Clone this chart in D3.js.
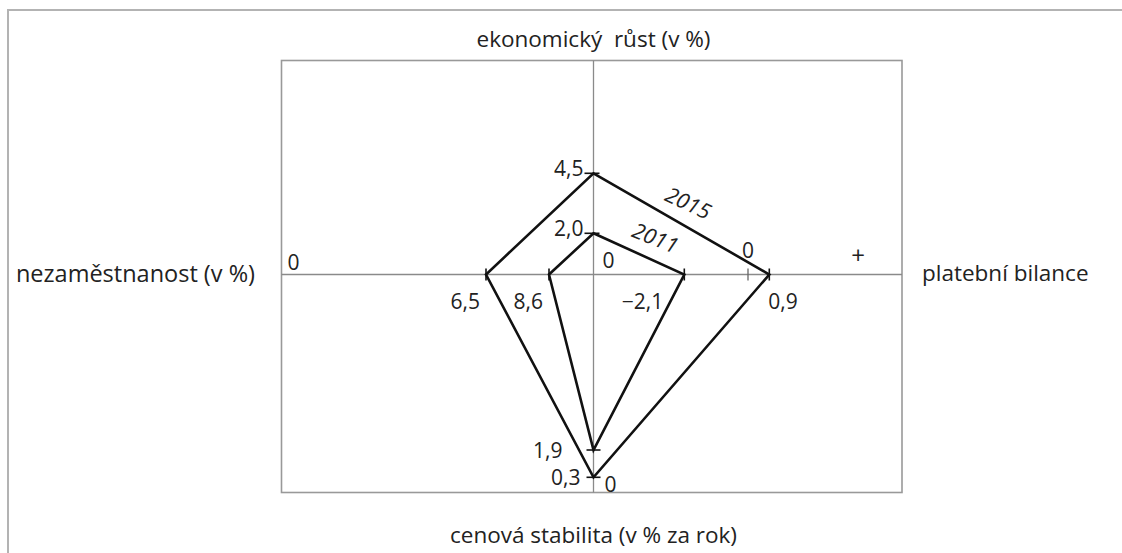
<!DOCTYPE html>
<html>
<head>
<meta charset="utf-8">
<script src="https://cdn.jsdelivr.net/npm/d3@7"></script>
<style>
  html, body { margin: 0; padding: 0; background: #fff; }
  svg text { font-family: "Open Sans", "Noto Sans", sans-serif; fill: #222; white-space: pre; }
</style>
</head>
<body>
<svg id="chart" width="1122" height="553"></svg>
<script>
// ---- data ----
const years = ["2011", "2015"];
const growth = [2.0, 4.5];          // ekonomický růst (v %)
const balance = [-2.1, 0.9];        // platební bilance
const unemployment = [8.6, 6.5];    // nezaměstnanost (v %)
const inflation = [1.9, 0.3];       // cenová stabilita (v % za rok)

const axisTitles = {
  top: "ekonomický  růst (v %)",
  left: "nezaměstnanost (v %)",
  right: "platební bilance",
  bottom: "cenová stabilita (v % za rok)"
};
const zeroLabel = "0";
const plusLabel = "+";

// ---- layout ----
const W = 1122, H = 553;
const box = { left: 281.5, right: 902, top: 60.5, bottom: 492.5 };
const cx = 593.5, cy = 274.5;

const svg = d3.select("#chart");
const fmt = d3.formatLocale({ decimal: ",", thousands: " ", grouping: [3], currency: ["", ""], minus: "\u2212" }).format(".1f");

// scales (schematic polylinear axes as in the original drawing)
const yGrowth = d3.scaleLinear().domain([0, 2, 4.5]).range([cy, 233.3, 173.3]);
const xBalance = d3.scaleLinear().domain([-2.1, 0, 0.9]).range([684.3, 748, 769.3]);
const xUnemp = d3.scaleLinear().domain([0, 6.5, 8.6]).range([box.left, 486, 549]);
const yInfl = d3.scaleLinear().domain([0, 0.3, 1.9]).range([483, 477.3, 450]);

// outer frame
svg.append("path")
  .attr("d", `M8,${H} L8,10 L${W},10`)
  .attr("fill", "none").attr("stroke", "#b3b3b3").attr("stroke-width", 2);

// inner box
svg.append("rect")
  .attr("x", box.left).attr("y", box.top)
  .attr("width", box.right - box.left).attr("height", box.bottom - box.top)
  .attr("fill", "none").attr("stroke", "#999").attr("stroke-width", 1.6);

// axes
svg.append("line").attr("x1", cx).attr("x2", cx).attr("y1", box.top).attr("y2", box.bottom)
  .attr("stroke", "#8a8a8a").attr("stroke-width", 1.3);
svg.append("line").attr("x1", box.left).attr("x2", box.right).attr("y1", cy).attr("y2", cy)
  .attr("stroke", "#8a8a8a").attr("stroke-width", 1.3);

// zero tick on balance axis
svg.append("line").attr("x1", xBalance(0)).attr("x2", xBalance(0))
  .attr("y1", cy - 6).attr("y2", cy + 6)
  .attr("stroke", "#666").attr("stroke-width", 1.3);

// polygons
const pts = years.map((y, i) => [
  [cx, yGrowth(growth[i])],
  [xBalance(balance[i]), cy],
  [cx, yInfl(inflation[i])],
  [xUnemp(unemployment[i]), cy]
]);
const line = d3.line().curve(d3.curveLinearClosed);
svg.selectAll("path.poly").data(pts).join("path")
  .attr("class", "poly")
  .attr("d", d => line(d))
  .attr("fill", "none").attr("stroke", "#111").attr("stroke-width", 2.6)
  .attr("stroke-linejoin", "miter");

// point ticks
const tk = 6;
years.forEach((yr, i) => {
  const g = svg.append("g").attr("stroke", "#111").attr("stroke-width", 1.6);
  const yg = yGrowth(growth[i]);
  g.append("line").attr("x1", cx - 9).attr("x2", cx + 6).attr("y1", yg).attr("y2", yg);
  const yi = yInfl(inflation[i]);
  g.append("line").attr("x1", cx - 7).attr("x2", cx + 7).attr("y1", yi).attr("y2", yi);
  const xb = xBalance(balance[i]);
  g.append("line").attr("x1", xb).attr("x2", xb).attr("y1", cy - tk).attr("y2", cy + tk);
  const xu = xUnemp(unemployment[i]);
  g.append("line").attr("x1", xu).attr("x2", xu).attr("y1", cy - tk).attr("y2", cy + tk);
});

// value labels
const fs = 21;
const lbl = (x, y, t, anchor) => svg.append("text")
  .attr("x", x).attr("y", y).attr("text-anchor", anchor || "start")
  .attr("font-size", fs).text(t);

// per-year label offsets (style only)
const balOff = [{ dx: -21, anchor: "end" }, { dx: -1, anchor: "start" }];
const inflOff = [{ dx: -31 }, { dx: -13 }];
years.forEach((yr, i) => {
  lbl(cx - 10, yGrowth(growth[i]) + 3, fmt(growth[i]), "end");
  lbl(xUnemp(unemployment[i]) - 6, cy + 34, fmt(unemployment[i]), "end");
  lbl(xBalance(balance[i]) + balOff[i].dx, cy + 34, fmt(balance[i]), balOff[i].anchor);
  lbl(cx + inflOff[i].dx, yInfl(inflation[i]) + 8, fmt(inflation[i]), "end");
});

// zero labels
lbl(xUnemp(0) + 6, cy - 5, zeroLabel);
lbl(cx + 9, cy - 7, zeroLabel);
lbl(xBalance(0), cy - 17, zeroLabel, "middle");
lbl(cx + 11, yInfl(0) + 9, zeroLabel);
lbl(858, cy - 11, plusLabel, "middle").attr("font-size", 24);

// year labels along the polygons' upper-right edges
const yearFs = 21.5;
const yearPos = [{ t: 0.65, off: -15, rot: 22 }, { t: 0.52, off: -16, rot: 25 }];
years.forEach((yr, i) => {
  const a = pts[i][0], b = pts[i][1];
  const p = yearPos[i];
  const x = a[0] + (b[0] - a[0]) * p.t;
  const y = a[1] + (b[1] - a[1]) * p.t + p.off;
  svg.append("text")
    .attr("transform", `translate(${x},${y}) rotate(${p.rot})`)
    .attr("text-anchor", "middle")
    .attr("font-size", yearFs).attr("font-style", "italic")
    .text(yr);
});

// axis titles
const tfs = 22.5;
svg.append("text").attr("x", cx).attr("y", 47).attr("text-anchor", "middle")
  .attr("font-size", tfs).text(axisTitles.top);
svg.append("text").attr("x", cx).attr("y", 543).attr("text-anchor", "middle")
  .attr("font-size", tfs).text(axisTitles.bottom);
svg.append("text").attr("x", 255).attr("y", cy + 7).attr("text-anchor", "end")
  .attr("font-size", 23.5).text(axisTitles.left);
svg.append("text").attr("x", 922).attr("y", cy + 6).attr("text-anchor", "start")
  .attr("font-size", tfs).text(axisTitles.right);
</script>
</body>
</html>
